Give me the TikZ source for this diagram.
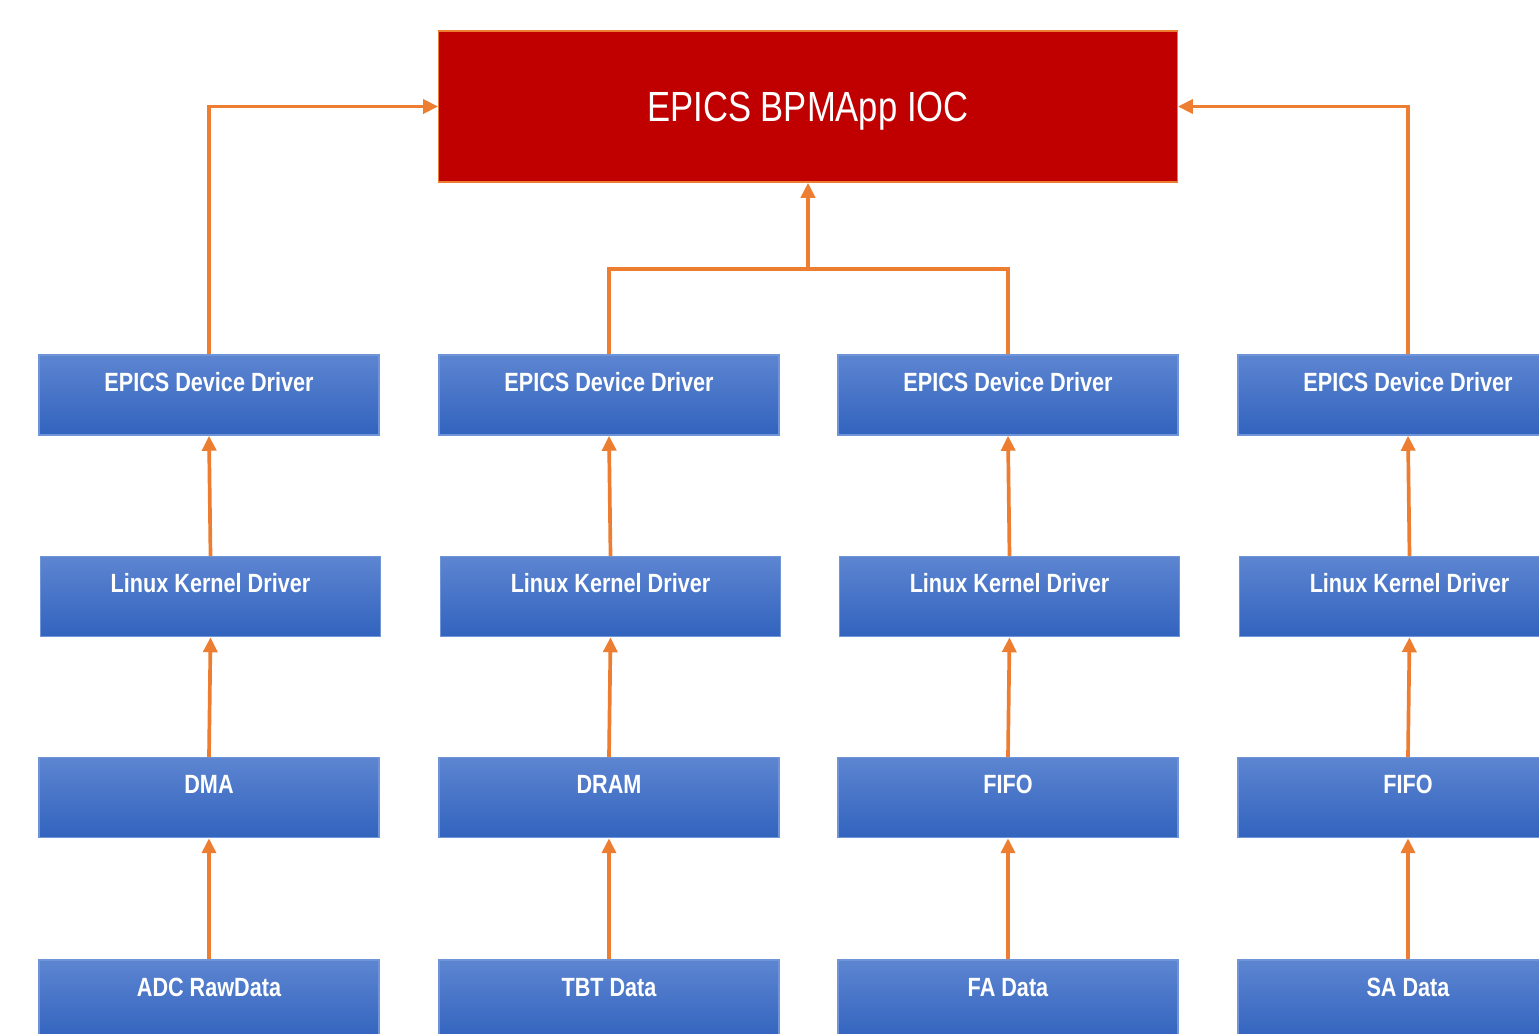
\documentclass[tikz,border=0pt]{standalone}
\usepackage{fontspec}
\setmainfont{Liberation Sans}[FakeStretch=0.82]
\usetikzlibrary{arrows.meta}

\definecolor{boxtop}{RGB}{93,133,209}
\definecolor{boxbot}{RGB}{50,99,190}
\definecolor{boxline}{RGB}{112,148,216}
\definecolor{iocred}{RGB}{192,0,0}
\definecolor{linkor}{RGB}{237,125,49}

\tikzset{
	blk/.style={rectangle, draw=boxline, line width=0.4pt, top color=boxtop, bottom color=boxbot,
		minimum width=3.4cm, minimum height=0.8cm, inner ysep=0pt,
		text height=0.36cm, text depth=0.44cm, text=white,
		font=\bfseries\fontsize{7.5}{9}\selectfont},
	linkline/.style={linkor, line width=1.05pt},
	link/.style={linkline, -{Triangle[length=0.15cm, width=0.14cm]}}
}

\begin{document}
\begin{tikzpicture}[x=0.01cm, y=-0.01cm]
	\path[use as bounding box, clip] (0,0) rectangle (1539,1033);
	\node[rectangle, draw=linkor, line width=0.4pt, fill=iocred, minimum width=7.38cm, minimum height=1.51cm,
		text depth=0pt, text=white, font=\fontsize{12}{14}\selectfont] (ioc) at (808,106.5) {EPICS BPMApp IOC};
	\foreach \i/\cx/\mid/\dat in {1/209/DMA/ADC RawData, 2/609/DRAM/TBT Data, 3/1008/FIFO/FA Data, 4/1408/FIFO/SA Data} {
		\node[blk] (epics\i) at (\cx,395) {EPICS Device Driver};
		\node[blk] (kernel\i) at (\cx+1.5,596.5) {Linux Kernel Driver};
		\node[blk] (mid\i) at (\cx,797.5) {\mid};
		\node[blk] (data\i) at (\cx,1000) {\dat};
		\draw[link] (kernel\i.north) -- (epics\i.south);
		\draw[link] (mid\i.north) -- (kernel\i.south);
		\draw[link] (data\i.north) -- (mid\i.south);
	}
	% up to the IOC
	\coordinate (join) at (808,269);
	\draw[link] (epics1.north) |- (ioc.west);
	\draw[link] (epics4.north) |- (ioc.east);
	\draw[linkline] (epics2.north) |- (join) -| (epics3.north);
	\draw[link] (join) -- (ioc.south);
\end{tikzpicture}
\end{document}
